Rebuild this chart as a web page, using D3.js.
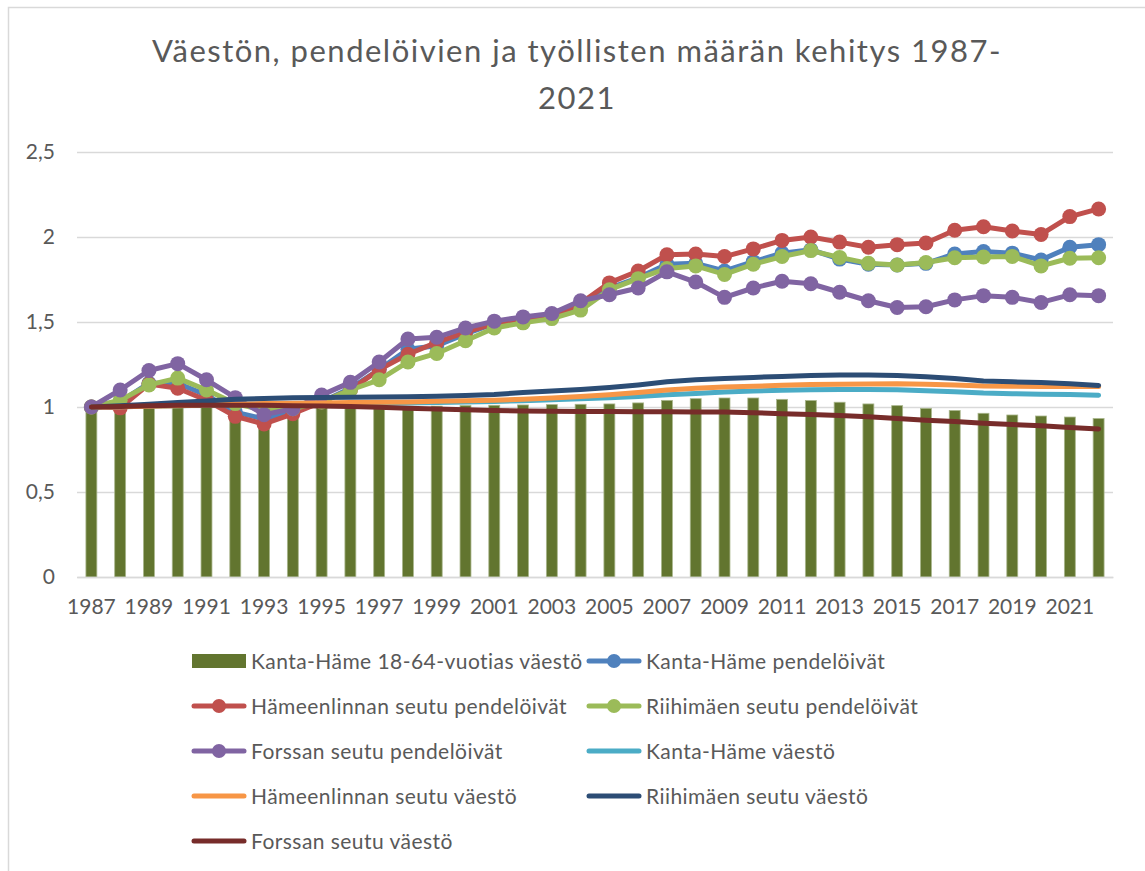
<!DOCTYPE html>
<html>
<head>
<meta charset="utf-8">
<script src="https://cdn.jsdelivr.net/npm/d3@7"></script>
<style>
  body { margin: 0; background: #fff; }
  svg text { font-family: Lato, "Open Sans", sans-serif; fill: #595959; }
</style>
</head>
<body>
<div id="chart"></div>
<script>
const WIDTH = 1145;
const HEIGHT = 871;
const PLOT = { left: 77, right: 1113, top: 152, bottom: 577 };

const YEARS = ["1987","1988","1989","1990","1991","1992","1993","1994","1995","1996","1997","1998",
  "1999","2000","2001","2002","2003","2004","2005","2006","2007","2008","2009","2010",
  "2011","2012","2013","2014","2015","2016","2017","2018","2019","2020","2021","2022"];
const Y_TICKS = [0, 0.5, 1, 1.5, 2, 2.5];

// bars: Kanta-Häme 18-64-vuotias väestö
const workingAge = [1.0, 1.0, 1.0, 0.999, 0.998, 0.997, 0.996, 0.996, 0.997, 0.998, 1.0, 1.004,
  1.005, 1.008, 1.01, 1.012, 1.014, 1.016, 1.018, 1.024, 1.039, 1.049, 1.053, 1.053,
  1.045, 1.038, 1.028, 1.018, 1.008, 0.992, 0.979, 0.963, 0.953, 0.947, 0.941, 0.932];

// commuters (pendelöivät)
const khCommuters = [1.0, 1.03, 1.14, 1.14, 1.07, 0.97, 0.93, 0.97, 1.03, 1.11, 1.22, 1.34,
  1.36, 1.43, 1.49, 1.51, 1.53, 1.6, 1.7, 1.76, 1.84, 1.845, 1.8, 1.855,
  1.905, 1.925, 1.87, 1.84, 1.835, 1.845, 1.9, 1.915, 1.905, 1.865, 1.94, 1.955];
const hmlCommuters = [1.0, 0.995, 1.135, 1.11, 1.04, 0.945, 0.9, 0.96, 1.03, 1.1, 1.22, 1.31,
  1.38, 1.44, 1.49, 1.5, 1.53, 1.61, 1.73, 1.8, 1.895, 1.9, 1.885, 1.93,
  1.98, 2.0, 1.97, 1.94, 1.955, 1.965, 2.04, 2.06, 2.035, 2.015, 2.12, 2.165];
const rmCommuters = [1.0, 1.04, 1.13, 1.17, 1.1, 1.02, 0.98, 0.99, 1.03, 1.1, 1.16, 1.265,
  1.315, 1.39, 1.465, 1.495, 1.52, 1.57, 1.69, 1.755, 1.815, 1.83, 1.78, 1.84,
  1.885, 1.92, 1.88, 1.845, 1.835, 1.85, 1.878, 1.882, 1.886, 1.83, 1.875, 1.878];
const forssaCommuters = [1.0, 1.1, 1.215, 1.255, 1.16, 1.055, 0.955, 0.99, 1.07, 1.145, 1.265, 1.4,
  1.41, 1.465, 1.505, 1.53, 1.55, 1.625, 1.66, 1.7, 1.795, 1.735, 1.645, 1.7,
  1.74, 1.725, 1.675, 1.625, 1.585, 1.59, 1.63, 1.655, 1.645, 1.615, 1.66, 1.655];

// population (väestö)
const khPopulation = [1.0, 1.002, 1.005, 1.008, 1.011, 1.014, 1.016, 1.018, 1.019, 1.02, 1.022, 1.024,
  1.027, 1.03, 1.033, 1.037, 1.042, 1.048, 1.054, 1.062, 1.072, 1.08, 1.088, 1.094,
  1.099, 1.102, 1.103, 1.103, 1.101, 1.096, 1.09, 1.082, 1.078, 1.075, 1.073, 1.069];
const hmlPopulation = [1.0, 1.002, 1.005, 1.008, 1.012, 1.016, 1.02, 1.022, 1.024, 1.026, 1.028, 1.03,
  1.034, 1.037, 1.04, 1.045, 1.053, 1.062, 1.072, 1.085, 1.1, 1.11, 1.118, 1.122,
  1.128, 1.132, 1.134, 1.136, 1.137, 1.134, 1.13, 1.124, 1.122, 1.121, 1.12, 1.12];
const rmPopulation = [1.0, 1.008, 1.016, 1.026, 1.036, 1.045, 1.05, 1.054, 1.056, 1.058, 1.059, 1.061,
  1.063, 1.068, 1.073, 1.085, 1.094, 1.103, 1.115, 1.13, 1.148, 1.16, 1.168, 1.174,
  1.18, 1.186, 1.188, 1.188, 1.185, 1.178, 1.168, 1.153, 1.148, 1.144, 1.137, 1.127];
const forssaPopulation = [1.0, 1.003, 1.007, 1.01, 1.011, 1.011, 1.01, 1.008, 1.006, 1.003, 0.998, 0.993,
  0.988, 0.984, 0.98, 0.977, 0.975, 0.974, 0.973, 0.972, 0.972, 0.971, 0.97, 0.966,
  0.961, 0.956, 0.95, 0.942, 0.932, 0.922, 0.914, 0.905, 0.897, 0.889, 0.88, 0.871];

const TITLE_LINES = ["Väestön, pendelöivien ja työllisten määrän kehitys 1987-", "2021"];
const BAR_NAME = "Kanta-Häme 18-64-vuotias väestö";
const BAR_COLOR = "#62752F";

const lineSeries = [
  { name: "Kanta-Häme pendelöivät", values: khCommuters, color: "#4F81BD", marker: true },
  { name: "Hämeenlinnan seutu pendelöivät", values: hmlCommuters, color: "#C0504D", marker: true },
  { name: "Riihimäen seutu pendelöivät", values: rmCommuters, color: "#9BBB59", marker: true },
  { name: "Forssan seutu pendelöivät", values: forssaCommuters, color: "#8064A2", marker: true },
  { name: "Kanta-Häme väestö", values: khPopulation, color: "#4BACC6", marker: false },
  { name: "Hämeenlinnan seutu väestö", values: hmlPopulation, color: "#F79646", marker: false },
  { name: "Riihimäen seutu väestö", values: rmPopulation, color: "#2C4D75", marker: false },
  { name: "Forssan seutu väestö", values: forssaPopulation, color: "#772C2A", marker: false }
];

let svg = d3.select("#chart").append("svg")
  .attr("width", WIDTH)
  .attr("height", HEIGHT);

svg.append("rect").attr("width", WIDTH).attr("height", HEIGHT).attr("fill", "#fff");
// chart frame (cut off at the right and bottom)
svg.append("rect")
  .attr("x", 8.5).attr("y", 7.5)
  .attr("width", WIDTH).attr("height", HEIGHT)
  .attr("fill", "none").attr("stroke", "#d9d9d9").attr("stroke-width", 1.5);

let x = d3.scaleBand().domain(YEARS).range([PLOT.left, PLOT.right]).paddingInner(0.62).paddingOuter(0.31);
let xCenter = (year) => x(year) + x.bandwidth() / 2;
let y = d3.scaleLinear().domain([0, 2.5]).range([PLOT.bottom, PLOT.top]);

// title
svg.append("g").selectAll("text")
  .data(TITLE_LINES)
  .join("text")
  .attr("x", 577)
  .attr("y", (d, i) => 62 + i * 47)
  .attr("text-anchor", "middle")
  .style("font-size", "31px")
  .style("letter-spacing", "1.5px")
  .text(d => d);

// grid + y labels
let yAxis = svg.append("g")
  .attr("transform", `translate(${PLOT.left},0)`)
  .call(d3.axisLeft(y).tickValues(Y_TICKS)
    .tickSize(-(PLOT.right - PLOT.left))
    .tickPadding(22)
    .tickFormat(d => d3.format("~g")(d).replace(".", ",")));
yAxis.select(".domain").remove();
yAxis.selectAll(".tick line").attr("stroke", "#d9d9d9").attr("stroke-width", 1.5);
yAxis.selectAll(".tick text").style("font-size", "21px").attr("fill", "#595959");

// bars
svg.append("g").selectAll("rect")
  .data(workingAge)
  .join("rect")
  .attr("x", (d, i) => x(YEARS[i]))
  .attr("y", d => y(d))
  .attr("width", x.bandwidth())
  .attr("height", d => y(0) - y(d))
  .attr("fill", BAR_COLOR)
  .attr("stroke", "#a9b68c")
  .attr("stroke-width", 0.8);

// x axis
let xAxis = svg.append("g")
  .attr("transform", `translate(0,${y(0)})`)
  .call(d3.axisBottom(x)
    .tickValues(YEARS.filter((d, i) => i % 2 === 0))
    .tickSize(0)
    .tickPadding(22));
xAxis.select(".domain").attr("stroke", "#d9d9d9").attr("stroke-width", 1.5);
xAxis.selectAll(".tick text").style("font-size", "21px").attr("fill", "#595959");

// lines
const linePath = d3.line().x((d, i) => xCenter(YEARS[i])).y(d => y(d));

lineSeries.forEach((s) => {
  let g = svg.append("g");
  g.append("path")
    .attr("d", linePath(s.values))
    .attr("fill", "none")
    .attr("stroke", s.color)
    .attr("stroke-width", 5)
    .attr("stroke-linejoin", "round")
    .attr("stroke-linecap", "round");
  if (s.marker) {
    g.selectAll("circle")
      .data(s.values)
      .join("circle")
      .attr("cx", (d, i) => xCenter(YEARS[i]))
      .attr("cy", d => y(d))
      .attr("r", 7.5)
      .attr("fill", s.color);
  }
});

// legend
const legendItems = [{ name: BAR_NAME, color: BAR_COLOR, bar: true }].concat(lineSeries);
const LEGEND_COLS = [192, 587];
const LEGEND_TOP = 661;
const LEGEND_ROW = 45;

let legend = svg.append("g");
legendItems.forEach((item, i) => {
  let lx = LEGEND_COLS[i % 2];
  let ly = LEGEND_TOP + Math.floor(i / 2) * LEGEND_ROW;
  if (item.bar) {
    legend.append("rect")
      .attr("x", lx).attr("y", ly - 7)
      .attr("width", 54).attr("height", 14)
      .attr("fill", item.color);
  } else {
    legend.append("line")
      .attr("x1", lx + 2).attr("x2", lx + 52)
      .attr("y1", ly).attr("y2", ly)
      .attr("stroke", item.color)
      .attr("stroke-width", 5)
      .attr("stroke-linecap", "round");
    if (item.marker) {
      legend.append("circle")
        .attr("cx", lx + 27).attr("cy", ly)
        .attr("r", 7).attr("fill", item.color);
    }
  }
  legend.append("text")
    .attr("x", lx + 59)
    .attr("y", ly)
    .attr("dy", "0.36em")
    .style("font-size", "21px")
    .style("letter-spacing", "0.45px")
    .text(item.name);
});
</script>
</body>
</html>
